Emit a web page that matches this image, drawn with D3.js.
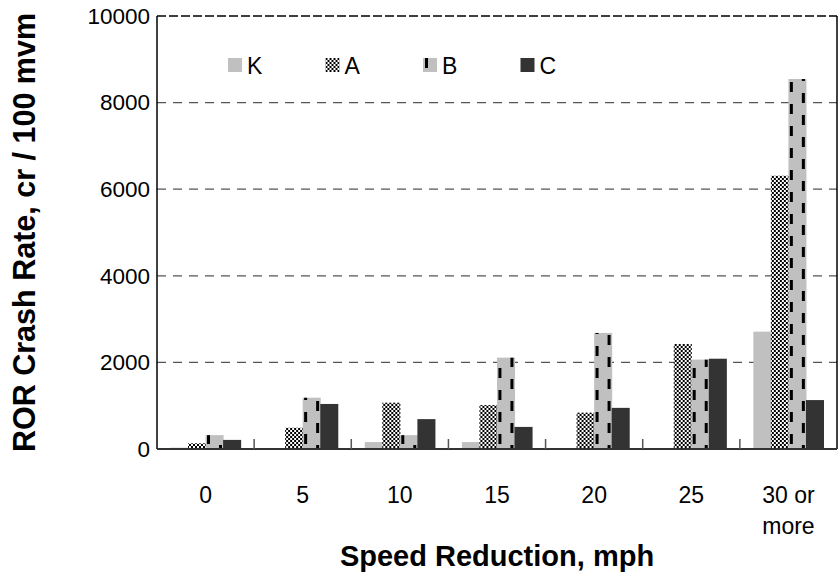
<!DOCTYPE html>
<html>
<head>
<meta charset="utf-8">
<script src="https://cdn.jsdelivr.net/npm/d3@7"></script>
<style>
  body { margin: 0; background: #fff; }
  text { font-family: "Liberation Sans", Arial, sans-serif; fill: #000; }
</style>
</head>
<body>
<div id="graf"></div>
<script>
// datos
categorias = ['0', '5', '10', '15', '20', '25', '30 or more']
series = ['K', 'A', 'B', 'C']
valoresK = [30, 0, 160, 160, 0, 0, 2710]
valoresA = [130, 490, 1070, 1015, 840, 2425, 6310]
valoresB = [320, 1185, 320, 2110, 2680, 2065, 8545]
valoresC = [210, 1040, 690, 510, 950, 2085, 1130]
ticksY = [0, 2000, 4000, 6000, 8000, 10000]

valores = { K: valoresK, A: valoresA, B: valoresB, C: valoresC }
dataArray = categorias.map((c, i) => ({ cat: c, vals: series.map(s => ({ serie: s, valor: valores[s][i] })) }))

// margenes
ancho_total = 838
alto_total = 580
margins = { top: 16, left: 157, right: 1, bottom: 131 }
ancho = ancho_total - margins.left - margins.right
alto = alto_total - margins.top - margins.bottom

svg = d3.select('#graf').append('svg')
  .attr('width', ancho_total)
  .attr('height', alto_total)

// patrones de relleno
defs = svg.append('defs')
pA = defs.append('pattern').attr('id', 'patA')
  .attr('patternUnits', 'userSpaceOnUse').attr('width', 4).attr('height', 4)
pA.append('rect').attr('width', 4).attr('height', 4).attr('fill', '#fff')
pA.append('rect').attr('width', 2).attr('height', 2).attr('fill', '#000')
pA.append('rect').attr('x', 2).attr('y', 2).attr('width', 2).attr('height', 2).attr('fill', '#000')

pB = defs.append('pattern').attr('id', 'patB')
  .attr('patternUnits', 'userSpaceOnUse').attr('width', 24).attr('height', 22)
  .attr('x', 2)
pB.append('rect').attr('width', 24).attr('height', 22).attr('fill', '#c0c0c0')
pB.append('rect').attr('x', 0).attr('y', 0).attr('width', 3).attr('height', 10).attr('fill', '#000')
pB.append('rect').attr('x', 12).attr('y', 11).attr('width', 3).attr('height', 10).attr('fill', '#000')

relleno = { K: '#c0c0c0', A: 'url(#patA)', B: 'url(#patB)', C: '#333333' }

g = svg.append('g')
  .attr('transform', `translate(${margins.left}, ${margins.top})`)

// escalas
y = d3.scaleLinear().domain([0, 10000]).range([alto, 0])
x0 = d3.scaleBand().domain(categorias).range([0, ancho])
x1 = d3.scaleBand().domain(series).range([13.5, x0.bandwidth() - 13.5])

// lineas de grilla
g.selectAll('.grid')
  .data(ticksY.filter(d => d > 0))
  .enter().append('line')
    .attr('x1', 0).attr('x2', ancho)
    .attr('y1', d => y(d)).attr('y2', d => y(d))
    .attr('stroke', d => d === 10000 ? '#000' : '#555')
    .attr('stroke-width', 1.3)
    .attr('stroke-dasharray', d => d === 10000 ? '9,3' : '9,7')

// barras
grupos = g.selectAll('.grupo')
  .data(dataArray)
  .enter().append('g')
    .attr('transform', d => `translate(${x0(d.cat)}, 0)`)

grupos.selectAll('rect')
  .data(d => d.vals)
  .enter().append('rect')
    .attr('x', d => x1(d.serie))
    .attr('y', d => y(d.valor))
    .attr('width', x1.bandwidth() + 0.5)
    .attr('height', d => alto - y(d.valor))
    .attr('fill', d => relleno[d.serie])

// bordes del area
g.append('line').attr('x1', 0).attr('x2', 0).attr('y1', 0).attr('y2', alto)
  .attr('stroke', '#000').attr('stroke-width', 1.5)
g.append('line').attr('x1', ancho).attr('x2', ancho).attr('y1', 0).attr('y2', alto)
  .attr('stroke', '#000').attr('stroke-width', 1.5)

// eje y
yAxisCall = d3.axisLeft(y).tickValues(ticksY).tickSize(0).tickPadding(7)
  .tickFormat(d3.format('d'))
yAxisGroup = g.append('g').call(yAxisCall)
  .attr('font-size', 22.5)
  .attr('font-family', '"Liberation Sans", Arial, sans-serif')
yAxisGroup.select('.domain').remove()

// eje x: linea base y marcas entre categorias
g.append('line').attr('x1', 0).attr('x2', ancho).attr('y1', alto).attr('y2', alto)
  .attr('stroke', '#333').attr('stroke-width', 2)
g.selectAll('.marca')
  .data(categorias.slice(1))
  .enter().append('line')
    .attr('x1', d => x0(d)).attr('x2', d => x0(d))
    .attr('y1', alto).attr('y2', alto - 10)
    .attr('stroke', '#555').attr('stroke-width', 1.5)

etiquetas = g.selectAll('.etq')
  .data(categorias)
  .enter().append('text')
    .attr('text-anchor', 'middle')
    .attr('x', d => x0(d) + x0.bandwidth() / 2)
    .attr('y', alto + 54)
    .style('font-size', '23px')
etiquetas.each(function(d) {
  partes = d === '30 or more' ? ['30 or', 'more'] : [d]
  t = d3.select(this)
  partes.forEach((p, i) => {
    t.append('tspan').attr('x', x0(d) + x0.bandwidth() / 2).attr('dy', i === 0 ? 0 : 31).text(p)
  })
})

// titulos
svg.append('text')
  .attr('x', margins.left + ancho / 2)
  .attr('y', 566)
  .attr('text-anchor', 'middle')
  .style('font-size', '29px').style('font-weight', 'bold')
  .text('Speed Reduction, mph')

svg.append('text')
  .attr('transform', `translate(35, ${margins.top + alto / 2}) rotate(-90)`)
  .attr('text-anchor', 'middle')
  .style('font-size', '30.5px').style('font-weight', 'bold')
  .text('ROR Crash Rate, cr / 100 mvm')

// leyenda
leyenda = g.selectAll('.ley')
  .data(series)
  .enter().append('g')
    .attr('transform', (d, i) => `translate(${71 + i * 97.5}, 42)`)
leyenda.append('rect')
  .attr('width', 14).attr('height', 14)
  .attr('fill', d => relleno[d])
leyenda.append('text')
  .attr('x', 19).attr('y', 16)
  .style('font-size', '23px')
  .text(d => d)
</script>
</body>
</html>
